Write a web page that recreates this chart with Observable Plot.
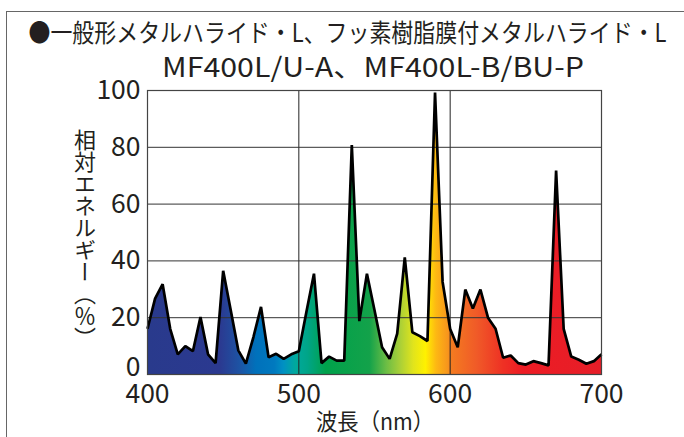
<!DOCTYPE html>
<html>
<head>
<meta charset="utf-8">
<script src="https://cdn.jsdelivr.net/npm/d3@7"></script>
<script src="https://cdn.jsdelivr.net/npm/@observablehq/plot@0.6"></script>
<style>
  html, body { margin: 0; padding: 0; background: #fff; }
  #wrap { position: relative; width: 684px; height: 437px; overflow: hidden; background: #fff; }
  #border { position: absolute; left: 6px; top: 11px; width: 760px; height: 520px;
            border-top: 1.5px solid #666; border-left: 1.5px solid #666; }
  #ylab { position: absolute; left: 74px; top: 129px; font-family: "Noto Sans CJK JP", sans-serif;
          font-size: 22px; line-height: 22px; writing-mode: vertical-rl; color: #231f20; }
  #wrap svg { position: absolute; left: 0; top: 0; }
</style>
</head>
<body>
<div id="wrap"><div id="border"></div></div>
<script>
const wavelength = [400,405,410,415,420,425,430,435,440,445,450,455,460,465,470,475,480,485,490,495,
  500,505,510,515,520,525,530,535,540,545,550,555,560,565,570,575,580,585,590,595,
  600,605,610,615,620,625,630,635,640,645,650,655,660,665,670,675,680,685,690,695,700];
const energy = [16.1,26.7,31.8,16.1,7.1,10,8.2,20.2,7.1,4,36.5,22.6,8.5,3.8,13.2,23.8,6.1,7.3,5.5,7.1,
  8.2,22,35.5,4,6.3,4.9,4.9,80.8,18.8,35.5,22.6,9.6,5.5,14.4,41.2,14.9,13.5,11.8,99.3,32.6,
  16,9.6,29.9,23.2,29.9,20,16.1,5.9,6.7,4,3.5,4.7,4,3.2,71.8,16.1,6.3,5.2,3.8,4.7,7.1];
const xTicks = [400,500,600,700];
const yTicks = [0,20,40,60,80,100];
const titleLine1 = "●一般形メタルハライド・L、フッ素樹脂膜付メタルハライド・L";
const titleLine2 = "MF400L/U-A、MF400L-B/BU-P";
const xLabel = "波長（nm）";
const yLabel = "相対エネルギー（％）";

// spectrum gradient (wavelength -> colour)
const gradientNm = [400,448,462,472,484,490,498,506,518,547,558,567,576,584,591,599,601,618,635,648,700];
const gradientColor = ["#293a8c","#2b3990","#1c55a5","#0071bb","#0079bf","#0090c3","#00a99d","#00a588","#00a14b","#13a24a",
  "#6bbd45","#a8cf38","#e1e41c","#fff100","#fdb813","#f7941d","#f47b20","#f05a28","#ee3124","#ed1c24","#e61e28"];

const data = wavelength.map((nm, i) => ({nm, v: energy[i]}));
const font = "'Noto Sans CJK JP', 'Noto Sans', sans-serif";

const plot = Plot.plot({
  width: 684, height: 437,
  marginTop: 90, marginBottom: 63, marginLeft: 147, marginRight: 83,
  style: {fontFamily: font, fontSize: "26.5px", color: "#231f20", background: "transparent"},
  x: {domain: [400, 700]},
  y: {domain: [0, 100]},
  marks: [
    Plot.areaY(data, {x: "nm", y: "v", fill: "url(#spec)"}),
    Plot.gridX({ticks: xTicks, stroke: "#222", strokeOpacity: 1, strokeWidth: 1}),
    Plot.gridY({ticks: yTicks, stroke: "#333", strokeOpacity: 1, strokeWidth: 1}),
    Plot.lineY(data, {x: "nm", y: "v", stroke: "#000", strokeWidth: 2.7, strokeLinejoin: "miter", strokeLinecap: "butt"}),
    Plot.frame({stroke: "#444", strokeWidth: 1.2}),
    Plot.axisX({ticks: xTicks, tickSize: 0, tickPadding: 10, label: null, fontSize: 26.5}),
    Plot.axisY({ticks: yTicks.slice(1), tickSize: 0, tickPadding: 7, label: null, fontSize: 26.5}),
    Plot.axisY({ticks: yTicks.slice(0, 1), tickSize: 0, tickPadding: 7, label: null, fontSize: 26.5, dy: -7})
  ]
});

const svg = d3.select(plot);
const xs = plot.scale("x");
const grad = svg.append("defs").append("linearGradient")
  .attr("id", "spec").attr("gradientUnits", "userSpaceOnUse")
  .attr("x1", xs.apply(400)).attr("x2", xs.apply(700)).attr("y1", 0).attr("y2", 0);
gradientNm.forEach((nm, i) => {
  grad.append("stop").attr("offset", (nm - 400) / 300).attr("stop-color", gradientColor[i]);
});

const titles = svg.append("g").attr("font-family", font).attr("fill", "#231f20").attr("text-anchor", "start");
titles.append("text").attr("x", 28.5).attr("y", 42).attr("font-size", 25)
  .attr("textLength", 638).attr("lengthAdjust", "spacingAndGlyphs").text(titleLine1);
titles.append("text").attr("x", 162).attr("y", 77).attr("font-size", 27)
  .attr("textLength", 422).attr("lengthAdjust", "spacingAndGlyphs").text(titleLine2);
titles.append("text").attr("x", 316).attr("y", 430).attr("font-size", 23)
  .attr("textLength", 118).attr("lengthAdjust", "spacingAndGlyphs").text(xLabel);

const wrap = document.getElementById("wrap");
wrap.appendChild(plot);
const yl = document.createElement("div");
yl.id = "ylab";
yl.textContent = yLabel;
wrap.appendChild(yl);
</script>
</body>
</html>
